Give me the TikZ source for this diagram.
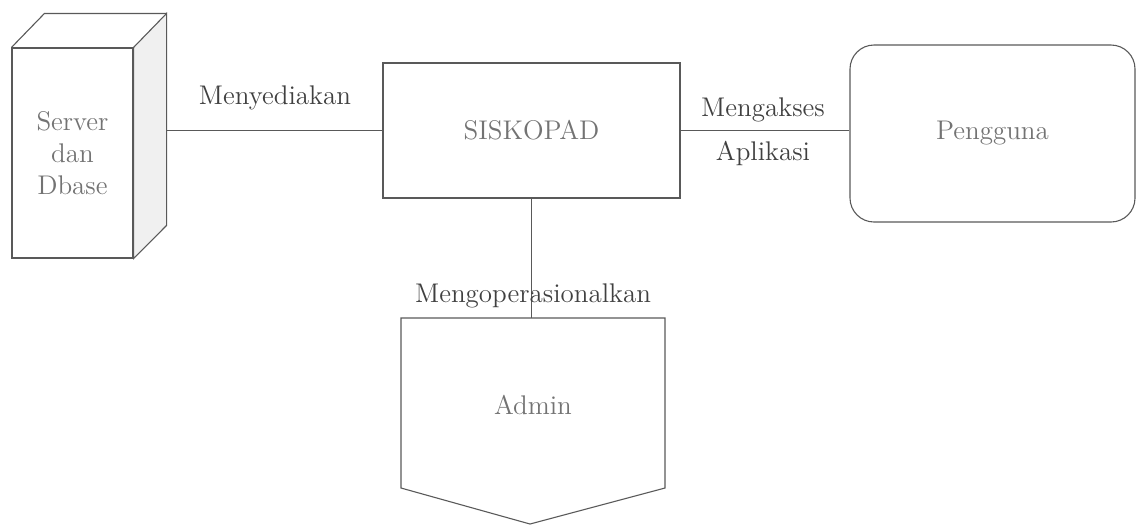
\documentclass[tikz,border=0pt]{standalone}
\usetikzlibrary{positioning}
\tikzstyle{box} = [rectangle, minimum width = 148.5, minimum height = 67.5,
  draw = black!65, text = black!55, text centered]
\tikzstyle{srvbox} = [rectangle, minimum width = 60.5, minimum height = 105,
  draw = black!65, text = black!55, text centered, align = center]
\tikzstyle{user} = [
  rectangle, rounded corners = 12,
  minimum width = 142.5, minimum height = 88.5,
  draw = black!65, text = black!55, text centered
]
\tikzstyle{lbl} = [text = black!75]
\tikzstyle{link} = [draw = black!65, line width = 0.55]

\begin{document}
\begin{tikzpicture}[x = 0.5pt, y = -0.5pt, node distance = 0,
    every node/.style = {font = \fontsize{13.5}{16}\selectfont}]
      \useasboundingbox (0, 0) rectangle (1138, 526);
      % server
      \node [srvbox, line width = 0.55] (srv) at (72.5, 153) {Server\\dan\\Dbase};
      \filldraw [link, fill = black!6] (srv.north east) -- ++(33, -34) coordinate (srv-tr)
        -- ++(0, 212) coordinate (srv-br) -- (srv.south east) -- cycle;
      \draw [link] (srv.north west) -- ++(33, -34) -- (srv-tr);
      % siskopad
      \node [box, line width = 0.55] (sis) at (531.5, 130.5) {SISKOPAD};
      % pengguna
      \node [user, line width = 0.55] (usr) at (992.5, 133.5) {Pengguna};
      % admin
      \node [text = black!55] (adm) at (533, 405) {Admin};
      \draw [link] (401, 318) coordinate (adm-tl) -- (665, 318) -- (665, 488)
        -- (530, 524) -- (401, 488) -- cycle;
      \coordinate (adm-top) at (adm-tl -| sis.south);

      \coordinate (srv-con) at (srv-tr |- sis.west);
      \draw [link] (srv-con) -- (sis.west);
      \draw [link] (sis.east) -- (sis.east -| usr.west);
      \draw [link] (sis.south) -- (adm-top);

      \node [lbl] (lbl-srv) at (275, 98) {Menyediakan};
      \node [lbl] (lbl-usr-a) at (763, 110) {Mengakses};
      \node [lbl] (lbl-usr-b) at (763, 153) {Aplikasi};
      \node [lbl] (lbl-adm) at (533, 296) {Mengoperasionalkan};
    \end{tikzpicture}
\end{document}
